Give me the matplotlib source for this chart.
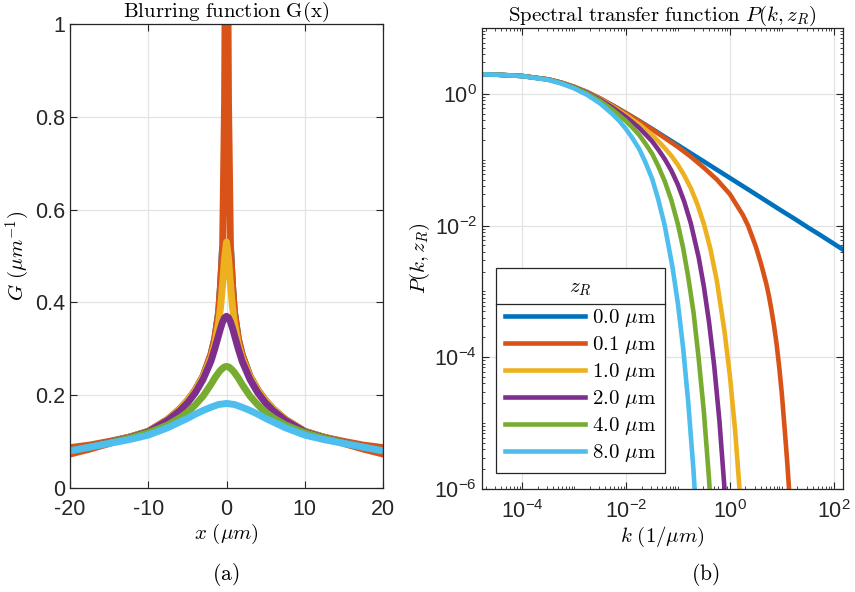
import numpy as np
import matplotlib
matplotlib.use('Agg')
from matplotlib import pyplot as plt
from matplotlib.lines import Line2D
from matplotlib.ticker import FixedLocator, LogLocator, NullFormatter

plt.rcParams['mathtext.fontset'] = 'cm'
plt.rcParams['axes.unicode_minus'] = False
plt.rcParams['font.family'] = 'Liberation Sans'

colors = ['#0072BD', '#D95319', '#EDB120', '#7E2F8E', '#77AC30', '#4DBEEE']
z_labels = ['0.0', '0.1', '1.0', '2.0', '4.0', '8.0']

# ---- (a) blurring function, half profile x >= 0 (curves are symmetric)
x_half = [0, 0.25, 0.5, 0.75, 1, 1.5, 2, 3, 4, 5, 6, 7.5, 10, 12.5, 15, 17.5, 20]
G_z00 = [np.nan, np.nan, 0.52, 0.44, 0.38, 0.322, 0.287, 0.241, 0.211, 0.188, 0.170, 0.148, 0.122, 0.109, 0.098, 0.088, 0.080]
G_z01 = [1.60, 0.83, 0.52, 0.44, 0.38, 0.322, 0.287, 0.241, 0.211, 0.188, 0.170, 0.148, 0.122, 0.109, 0.098, 0.088, 0.080]
G_z1 = [0.530, 0.495, 0.440, 0.392, 0.357, 0.310, 0.280, 0.240, 0.210, 0.188, 0.170, 0.148, 0.122, 0.109, 0.098, 0.088, 0.080]
G_z2 = [0.370, 0.367, 0.358, 0.345, 0.330, 0.300, 0.273, 0.234, 0.205, 0.183, 0.166, 0.146, 0.121, 0.108, 0.098, 0.088, 0.080]
G_z4 = [0.262, 0.261, 0.258, 0.254, 0.249, 0.237, 0.223, 0.198, 0.179, 0.163, 0.151, 0.136, 0.119, 0.107, 0.097, 0.088, 0.080]
G_z8 = [0.182, 0.1818, 0.181, 0.1805, 0.180, 0.177, 0.174, 0.167, 0.159, 0.150, 0.142, 0.130, 0.114, 0.104, 0.096, 0.088, 0.080]
# noisy spread of the z=0.1 curve towards the edges
G_z01_spread = [0, 0, 0, 0, 0, 0, 0, 0, 0, 0, 0, 0.003, 0.006, 0.008, 0.010, 0.012, 0.0145]

# ---- (b) spectral transfer function
k_z00 = [1.7e-5, 3.2e-5, 1e-4, 3.2e-4, 5.6e-4, 1e-3, 1.8e-3, 3.2e-3, 5.6e-3, 1e-2, 1.8e-2, 3.2e-2, 5.6e-2, 0.1,
         0.178, 0.316, 0.562, 1.0, 1.78, 3.16, 5.62, 10, 17.8, 31.6, 56.2, 100, 148]
P_z00 = [1.976, 1.956, 1.871, 1.660, 1.489, 1.283, 1.063, 0.851, 0.666, 0.512, 0.389, 0.294, 0.222, 0.167,
         0.125, 0.094, 0.0705, 0.0529, 0.0397, 0.0298, 0.0223, 0.0167, 0.0126, 0.0094, 0.0071, 0.0053, 0.00435]
k_z01 = [1.7e-5, 3.2e-5, 1e-4, 3.2e-4, 5.6e-4, 1e-3, 1.8e-3, 3.2e-3, 5.6e-3, 1e-2, 1.8e-2, 3.2e-2, 5.6e-2, 0.1,
         0.178, 0.316, 0.562, 1.0, 1.78, 2.24, 3.16, 3.98, 5.01, 5.62, 6.31, 7.08, 7.94, 8.91, 10, 11.2, 12.6,
         14.1, 15.8]
P_z01 = [1.976, 1.956, 1.871, 1.660, 1.489, 1.283, 1.063, 0.850, 0.664, 0.508, 0.385, 0.288, 0.214, 0.156,
         0.111, 0.0756, 0.050, 0.030, 0.0145, 0.010, 4.8e-3, 2.63e-3, 1.32e-3, 8.7e-4, 5.25e-4, 3.02e-4, 1.58e-4,
         7.1e-5, 2.8e-5, 9.3e-6, 2.8e-6, 7.6e-7, 1.6e-7]
k_z1 = [1.7e-5, 3.2e-5, 1e-4, 3.2e-4, 5.6e-4, 1e-3, 1.8e-3, 3.2e-3, 5.6e-3, 1e-2, 1.8e-2, 3.2e-2, 4.2e-2, 5.6e-2,
        7.5e-2, 0.1, 0.133, 0.178, 0.237, 0.316, 0.42, 0.562, 0.79, 1.0, 1.26, 1.58, 2.0]
P_z1 = [1.976, 1.956, 1.870, 1.656, 1.483, 1.274, 1.050, 0.833, 0.640, 0.477, 0.344, 0.237, 0.191, 0.150,
        0.1146, 0.0836, 0.0576, 0.0367, 0.0211, 0.0106, 4.5e-3, 1.45e-3, 2.46e-4, 5.3e-5, 7.9e-6, 7.4e-7, 4e-8]
k_z2 = [1.7e-5, 3.2e-5, 1e-4, 3.2e-4, 5.6e-4, 1e-3, 1.8e-3, 3.2e-3, 5.6e-3, 1e-2, 1.33e-2, 1.8e-2, 2.37e-2,
        3.2e-2, 4.2e-2, 5.6e-2, 7.5e-2, 0.1, 0.133, 0.178, 0.251, 0.316, 0.398, 0.5, 0.63, 0.79, 1.0]
P_z2 = [1.976, 1.956, 1.868, 1.653, 1.478, 1.265, 1.037, 0.814, 0.616, 0.446, 0.3715, 0.3045, 0.244,
        0.190, 0.1427, 0.102, 0.0683, 0.0419, 0.0229, 0.0107, 3.3e-3, 1.19e-3, 3.4e-4, 7.4e-5, 1.09e-5, 1.0e-6, 5e-8]
k_z4 = [1.7e-5, 3.2e-5, 1e-4, 3.2e-4, 5.6e-4, 1e-3, 1.8e-3, 3.2e-3, 5.6e-3, 1e-2, 1.33e-2, 1.8e-2, 2.37e-2,
        3.2e-2, 4.2e-2, 5.6e-2, 7.5e-2, 0.1, 0.126, 0.158, 0.2, 0.25, 0.316, 0.398, 0.5]
P_z4 = [1.976, 1.956, 1.866, 1.646, 1.466, 1.248, 1.012, 0.780, 0.569, 0.388, 0.309, 0.238, 0.176,
        0.123, 0.0797, 0.0469, 0.0242, 0.0105, 4.6e-3, 1.66e-3, 4.8e-4, 1.0e-4, 1.5e-5, 1.4e-6, 7e-8]
k_z8 = [1.7e-5, 3.2e-5, 1e-4, 3.2e-4, 5.6e-4, 1e-3, 1.8e-3, 3.2e-3, 5.6e-3, 7.5e-3, 1e-2, 1.33e-2, 1.8e-2,
        2.37e-2, 3.2e-2, 4.2e-2, 5.6e-2, 7.9e-2, 0.1, 0.126, 0.158, 0.2, 0.25]
P_z8 = [1.976, 1.956, 1.861, 1.631, 1.443, 1.214, 0.963, 0.714, 0.488, 0.386, 0.294, 0.2135, 0.146,
        0.0915, 0.0513, 0.0248, 0.0099, 2.3e-3, 6.6e-4, 1.4e-4, 2.1e-5, 1.9e-6, 1e-7]


def mirror(v):
    v = np.asarray(v, dtype=float)
    return np.concatenate([v[::-1], v[1:]])


x_full = np.concatenate([-np.asarray(x_half[::-1], dtype=float), np.asarray(x_half[1:], dtype=float)])
G_all = [G_z00, G_z01, G_z1, G_z2, G_z4, G_z8]
k_all = [k_z00, k_z01, k_z1, k_z2, k_z4, k_z8]
P_all = [P_z00, P_z01, P_z1, P_z2, P_z4, P_z8]

axis_col = '#262626'
grid_col = '#e3e3e3'

fig = plt.figure(figsize=(8.55, 5.92), dpi=100)
ax1 = fig.add_axes([0.0819, 0.1757, 0.3661, 0.7838])
ax2 = fig.add_axes([0.5637, 0.174, 0.4222, 0.7787])

# ---- left panel
for i, G in enumerate(G_all):
    g = mirror(G)
    if i == 1:
        s = mirror(G_z01_spread)
        ax1.fill_between(x_full, g - s, g + s, color=colors[i], lw=0)
    ax1.plot(x_full, g, color=colors[i], lw=5, solid_capstyle='butt')

ax1.set_xlim(-20, 20)
ax1.set_ylim(0, 1)
ax1.set_xticks([-20, -10, 0, 10, 20])
ax1.set_yticks([0, 0.2, 0.4, 0.6, 0.8, 1])
ax1.set_yticklabels(['0', '0.2', '0.4', '0.6', '0.8', '1'])
ax1.set_title(r'$\mathrm{Blurring\ function\ G(x)}$', fontsize=15, pad=2.5)
ax1.set_xlabel(r'$x\ (\mu m)$', fontsize=15, labelpad=1)
ax1.set_ylabel(r'$G\ (\mu m^{-1})$', fontsize=15, labelpad=2)

# ---- right panel
lines = []
for i in range(6):
    ln, = ax2.plot(k_all[i], P_all[i], color=colors[i], lw=3.3)
    lines.append(ln)

ax2.set_xscale('log')
ax2.set_yscale('log')
ax2.set_xlim(1.7e-5, 150)
ax2.set_ylim(1e-6, 10)
ax2.xaxis.set_major_locator(FixedLocator([1e-4, 1e-2, 1, 1e2]))
ax2.set_xticklabels([r'$\mathregular{10^{-4}}$', r'$\mathregular{10^{-2}}$',
                     r'$\mathregular{10^{0}}$', r'$\mathregular{10^{2}}$'])
ax2.yaxis.set_major_locator(FixedLocator([1e-6, 1e-4, 1e-2, 1]))
ax2.set_yticklabels([r'$\mathregular{10^{-6}}$', r'$\mathregular{10^{-4}}$',
                     r'$\mathregular{10^{-2}}$', r'$\mathregular{10^{0}}$'])
for a in (ax2.xaxis, ax2.yaxis):
    a.set_minor_locator(LogLocator(base=10, subs=np.arange(1, 10) * 1.0, numticks=60))
    a.set_minor_formatter(NullFormatter())
ax2.set_title(r'$\mathrm{Spectral\ transfer\ function}\ P(k,z_R)$', fontsize=15, pad=2.5)
ax2.set_xlabel(r'$k\ (1/\mu m)$', fontsize=15, labelpad=1)
ax2.set_ylabel(r'$P(k,z_R)$', fontsize=15, labelpad=2)

for ax in (ax1, ax2):
    ax.set_axisbelow(True)
    ax.grid(True, which='major', color=grid_col, lw=0.9)
    ax.tick_params(which='major', direction='in', top=True, right=True, length=5, width=0.8,
                   labelsize=15.5, color=axis_col, labelcolor=axis_col)
    ax.tick_params(which='minor', direction='in', top=True, right=True, length=2.5, width=0.6,
                   color=axis_col)
    ax.tick_params(axis='x', which='major', pad=8)
    for sp in ax.spines.values():
        sp.set_color(axis_col)
        sp.set_linewidth(0.9)

labels = [r'$%s\ \mu\mathrm{m}$' % z for z in z_labels]
leg = ax2.legend(lines, labels, title=r'$z_R$', loc='upper left', bbox_to_anchor=(0.0388, 0.479),
                 borderaxespad=0, fancybox=False, edgecolor=axis_col, framealpha=1,
                 fontsize=15, title_fontsize=15, handlelength=3.8, handletextpad=0.35,
                 labelspacing=0.235, borderpad=0.45)
leg.get_frame().set_linewidth(0.9)
leg._legend_box.sep = 6.7

fig.text(226 / 855, 1 - 575 / 592, r'$\mathrm{(a)}$', ha='center', va='center', fontsize=15.5)
fig.text(705 / 855, 1 - 575 / 592, r'$\mathrm{(b)}$', ha='center', va='center', fontsize=15.5)

# separator line under the legend title
fig.canvas.draw()
bb = leg.get_frame().get_window_extent()
tb = leg.get_title().get_window_extent()
y_sep = tb.y0 - 6
W, H = fig.canvas.get_width_height()
fig.add_artist(Line2D([bb.x0 / W, bb.x1 / W], [y_sep / H, y_sep / H], transform=fig.transFigure,
                      color=axis_col, lw=0.9))

fig.savefig('out.png', dpi=100)
